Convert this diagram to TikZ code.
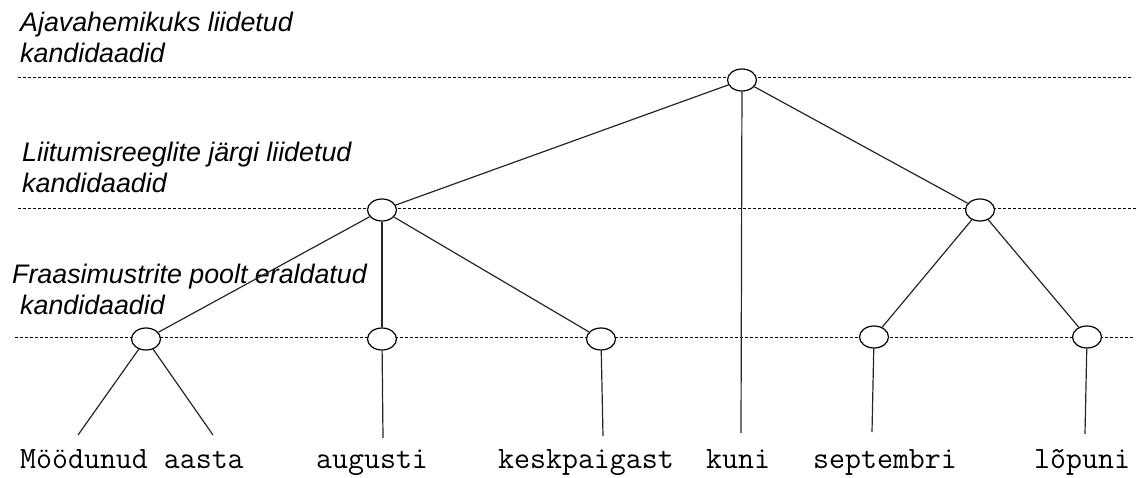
\documentclass[tikz,border=0pt]{standalone}
\usepackage{fontspec}
\setmainfont{Liberation Sans}
\usetikzlibrary{shapes.geometric}
\begin{document}
\begin{tikzpicture}[x=1pt,y=-1pt,
  knot/.style={ellipse,draw,fill=white,line width=1.2pt,minimum width=29pt,minimum height=22pt,inner sep=0pt},
  level/.style={line width=0.9pt,dash pattern=on 3pt off 2pt},
  edge/.style={line width=1.2pt,black!85},
  lab/.style={anchor=base west,align=left,inner sep=0pt,font=\fontsize{26.8}{31.5}\selectfont\itshape},
  word/.style={anchor=base west,inner sep=0pt,font=\ttfamily\fontsize{31}{34}\selectfont}]
\useasboundingbox (0,0) rectangle (1136,478);
% level lines
\coordinate (l1a) at (18,77);  \coordinate (l1b) at (1133,77);
\coordinate (l2a) at (18,208); \coordinate (l2b) at (1136,208);
\coordinate (l3a) at (15,337); \coordinate (l3b) at (1135,337);
\draw[level] (l1a) -- (l1b);
\draw[level] (l2a) -- (l2b);
\draw[level] (l3a) -- (l3b);
% labels (anchor = baseline of last line)
\node[lab] (t1) at (20,63) {Ajavahemikuks liidetud\\kandidaadid};
\node[lab] (t2) at (22,193) {Liitumisreeglite järgi liidetud\\kandidaadid};
\node[lab] (t3) at (20,315) {\hspace*{-8pt}Fraasimustrite poolt eraldatud\\kandidaadid};
% nodes
\node[knot] (top) at (742,80) {};
\node[knot] (ml) at (382,210) {};
\node[knot] (mr) at (980,210) {};
\node[knot] (b1) at (146,339) {};
\node[knot] (b2) at (382,339) {};
\node[knot] (b3) at (601,339) {};
\node[knot] (b4) at (874,337) {};
\node[knot] (b5) at (1087,337) {};
% leaf ends
\coordinate (e1) at (78,435);
\coordinate (e2) at (213,435);
\coordinate (e3) at (383,438);
\coordinate (e4) at (603,436);
\coordinate (e5) at (741,433);
\coordinate (e6) at (872,432);
\coordinate (e7) at (1085,434);
% edges
\draw[edge] (top) -- (ml);
\draw[edge] (top) -- (mr);
\draw[edge] (top) -- (e5);
\draw[edge] (ml) -- (b1);
\draw[edge] (ml) -- (b2);
\draw[edge] (ml) -- (b3);
\draw[edge] (mr) -- (b4);
\draw[edge] (mr) -- (b5);
\draw[edge] (b1) -- (e1);
\draw[edge] (b1) -- (e2);
\draw[edge] (b2) -- (e3);
\draw[edge] (b3) -- (e4);
\draw[edge] (b4) -- (e6);
\draw[edge] (b5) -- (e7);
% words
\node[word] (w1) at (20,468) {Möödunud aasta};
\node[word] (w2) at (316,468) {augusti};
\node[word] (w3) at (498,468) {keskpaigast};
\node[word] (w4) at (706,468) {kuni};
\node[word] (w5) at (813,468) {septembri};
\node[word] (w6) at (1034,468) {lõpuni};
\end{tikzpicture}
\end{document}
